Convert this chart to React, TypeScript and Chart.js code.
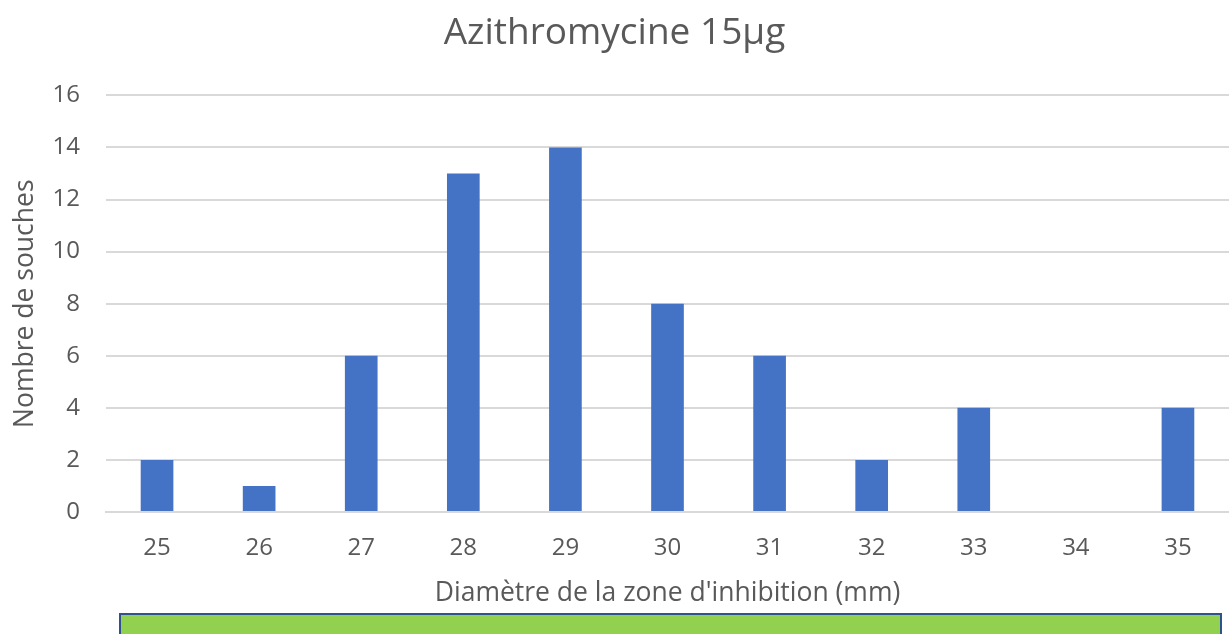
import React, { useEffect, useRef } from "react";
import { Chart, registerables } from "chart.js";

Chart.register(...registerables);

const categories = ["25", "26", "27", "28", "29", "30", "31", "32", "33", "34", "35"];
const counts = [2, 1, 6, 13, 14, 8, 6, 2, 4, 0, 4];
const chartTitle = "Azithromycine 15µg";
const xTitle = "Diamètre de la zone d'inhibition (mm)";
const yTitle = "Nombre de souches";

const FONT = "'Open Sans', 'DejaVu Sans', sans-serif";

const greenBox = {
  id: "greenBox",
  afterDraw(chart: any) {
    const ctx = chart.ctx;
    ctx.save();
    ctx.fillStyle = "#92D050";
    ctx.strokeStyle = "#2F528F";
    ctx.lineWidth = 2;
    ctx.fillRect(120, 614, 1101, 40);
    ctx.strokeRect(120, 614, 1101, 40);
    ctx.restore();
  },
};

export default function App() {
  const ref = useRef<HTMLCanvasElement>(null);
  useEffect(() => {
    document.body.style.margin = "0";
    const chart = new Chart(ref.current!, {
      type: "bar",
      data: {
        labels: categories,
        datasets: [
          {
            data: counts,
            backgroundColor: "#4472C4",
            categoryPercentage: 1,
            barPercentage: 0.32,
          },
        ],
      },
      plugins: [greenBox],
      options: {
        animation: false,
        responsive: false,
        layout: { padding: 0 },
        plugins: {
          legend: { display: false },
          tooltip: { enabled: false },
          title: {
            display: true,
            text: chartTitle,
            color: "#595959",
            font: { family: FONT, size: 37, weight: "normal" },
            padding: { top: 11, bottom: 40 },
          },
        },
        scales: {
          x: {
            afterFit(scale: any) {
              scale.height = 122;
            },
            grid: { display: false, drawTicks: false },
            border: { display: true, color: "#D9D9D9", width: 2 },
            ticks: {
              color: "#595959",
              font: { family: FONT, size: 24 },
              padding: 22,
            },
            title: {
              display: true,
              text: xTitle,
              color: "#595959",
              font: { family: FONT, size: 26.5 },
              padding: { top: 0, bottom: 25 },
            },
          },
          y: {
            min: 0,
            max: 16,
            afterFit(scale: any) {
              scale.width = 106;
            },
            ticks: {
              stepSize: 2,
              color: "#595959",
              font: { family: FONT, size: 24 },
              padding: 26,
            },
            grid: { color: "#D9D9D9", lineWidth: 2, drawTicks: false },
            border: { display: false },
            title: {
              display: true,
              text: yTitle,
              color: "#595959",
              font: { family: FONT, size: 26.5 },
              padding: { top: 10, bottom: 0 },
            },
          },
        },
      },
    });
    return () => chart.destroy();
  }, []);
  return <canvas ref={ref} width={1229} height={634} style={{ display: "block" }} />;
}
